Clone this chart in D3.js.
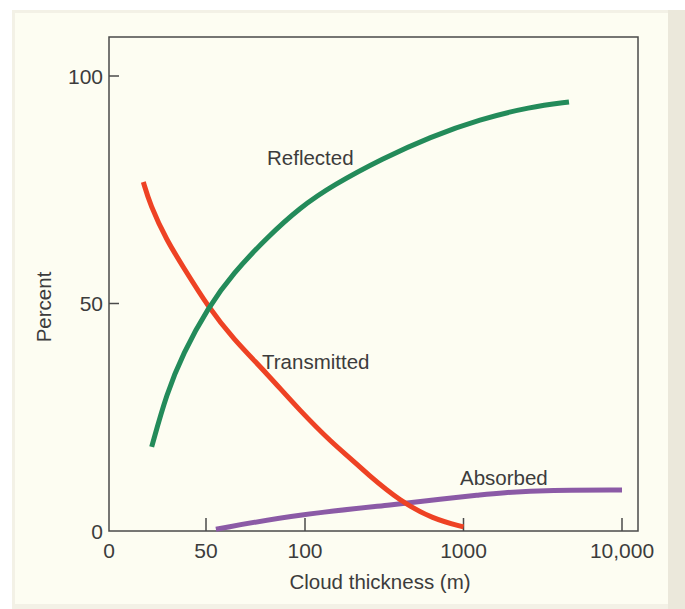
<!DOCTYPE html>
<html>
<head>
<meta charset="utf-8">
<script src="https://cdn.jsdelivr.net/npm/d3@7"></script>
<style>
  body { margin: 0; background: #ffffff; }
  svg { display: block; }
  text { font-family: "Liberation Sans", Arial, sans-serif; fill: #3c3c3c; }
</style>
</head>
<body>
<svg id="chart" width="685" height="609"></svg>
<script>
// cloud thickness (m) vs percent
const reflectedX = [22, 29.7, 38.1, 51, 63.6, 80.8, 97.5, 150, 310, 615, 1270, 2630, 4630];
const reflectedY = [18.5, 30.2, 39.0, 49.1, 56.6, 64.5, 71.1, 76.0, 81.9, 86.6, 90.5, 93.2, 94.3];

const transmittedX = [17.7, 21.1, 29.7, 38.3, 51, 63.6, 80.8, 97.5, 150, 192, 246, 397, 643, 1000];
const transmittedY = [76.7, 71.8, 63.9, 58.0, 49.3, 42.3, 34.6, 26.4, 19.2, 16.1, 12.6, 6.6, 2.6, 0.9];

const absorbedX = [55, 97, 397, 711, 1270, 1700, 3520, 10000];
const absorbedY = [0.4, 3.7, 5.9, 7.0, 7.9, 8.4, 9.0, 9.0];

const xTicks = [0, 50, 100, 1000, 10000];
const xTickLabels = ['0', '50', '100', '1000', '10,000'];
const yTicks = [0, 50, 100];

const svg = d3.select('#chart');
const W = 685, H = 609;

// paper background
svg.append('rect').attr('x', 12).attr('y', 10).attr('width', W - 12).attr('height', H - 10)
    .attr('fill', '#f3f1e6');
svg.append('rect').attr('x', 668).attr('y', 10).attr('width', 17).attr('height', H - 10)
    .attr('fill', '#ebe8db');
svg.append('rect').attr('x', 15).attr('y', 13).attr('width', 653).attr('height', 591)
    .attr('fill', '#fdfdf2');

const margin = {top: 37, left: 109},
    width = 529,
    height = 494;

const g = svg.append('g').attr('transform', 'translate(' + margin.left + ',' + margin.top + ')');

// x axis is linear up to 100 m, log above
const xLin = d3.scaleLinear().domain([0, 50, 100]).range([0, 97, 196]);
const xLog = d3.scaleLog().domain([100, 10000]).range([196, 513]);
function x(v) { return v <= 100 ? xLin(v) : xLog(v); }

const y = d3.scaleLinear().domain([0, 100]).range([height, 39]);

// frame
g.append('rect')
    .attr('width', width).attr('height', height)
    .attr('fill', 'none').attr('stroke', '#4a4a4a').attr('stroke-width', 1.5);

// y ticks (inside)
g.selectAll('.ytick').data(yTicks.filter(d => d > 0)).enter().append('line')
    .attr('x1', 0).attr('x2', 10)
    .attr('y1', d => y(d)).attr('y2', d => y(d))
    .attr('stroke', '#4a4a4a').attr('stroke-width', 1.5);
g.selectAll('.ylab').data(yTicks).enter().append('text')
    .attr('x', -6).attr('y', d => y(d)).attr('dy', '0.36em')
    .attr('text-anchor', 'end').style('font-size', '21px')
    .text(d => d);

// x ticks (inside, pointing up)
g.selectAll('.xtick').data(xTicks.filter(d => d > 0)).enter().append('line')
    .attr('x1', d => x(d)).attr('x2', d => x(d))
    .attr('y1', height).attr('y2', height - 13)
    .attr('stroke', '#4a4a4a').attr('stroke-width', 1.5);
g.selectAll('.xlab').data(xTicks).enter().append('text')
    .attr('x', d => x(d)).attr('y', height + 27)
    .attr('text-anchor', 'middle').style('font-size', '21px')
    .text((d, i) => xTickLabels[i]);

// curves
const line = d3.line().curve(d3.curveBasis);
function drawSeries(xs, ys, color) {
    const pts = xs.map((d, i) => [x(d), y(ys[i])]);
    g.append('path')
        .attr('d', line(pts))
        .attr('fill', 'none')
        .attr('stroke', color)
        .attr('stroke-width', 5);
}
drawSeries(absorbedX, absorbedY, '#8b5aa6');
drawSeries(transmittedX, transmittedY, '#ee4224');
drawSeries(reflectedX, reflectedY, '#238b5a');

// curve labels
svg.append('text').attr('x', 267).attr('y', 165).style('font-size', '20.5px').text('Reflected');
svg.append('text').attr('x', 262).attr('y', 369).style('font-size', '20.5px').text('Transmitted');
svg.append('text').attr('x', 460).attr('y', 485).style('font-size', '20.5px').text('Absorbed');

// axis titles
svg.append('text')
    .attr('transform', 'translate(51,307) rotate(-90)')
    .attr('text-anchor', 'middle').style('font-size', '20.5px')
    .text('Percent');
svg.append('text')
    .attr('x', 380).attr('y', 589)
    .attr('text-anchor', 'middle').style('font-size', '20.5px')
    .text('Cloud thickness (m)');
</script>
</body>
</html>
